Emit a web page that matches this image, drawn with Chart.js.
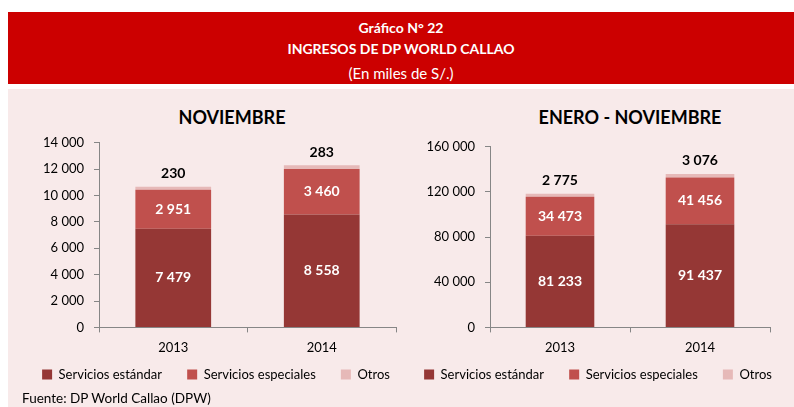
<!DOCTYPE html>
<html>
<head>
<meta charset="utf-8">
<script src="https://cdn.jsdelivr.net/npm/chart.js@4"></script>
<style>
  body { margin: 0; width: 794px; height: 407px; overflow: hidden; background: #fff; font-family: Lato, sans-serif; position: relative; }
  #band { position: absolute; left: 8px; top: 12px; width: 786px; height: 72px; background: #CC0000; color: #fff; text-align: center; }
  #band div { position: absolute; left: 0; right: 0; font-size: 14px; }
  #panel { position: absolute; left: 8px; top: 89px; width: 786px; height: 318px; background: #F8EAEA; }
  .ttl { position: absolute; font-weight: bold; font-size: 18px; color: #000; transform: translateX(-50%); white-space: nowrap; }
  .box { position: absolute; }
  #fuente { position: absolute; left: 22px; top: 390px; font-size: 13.5px; color: #000; }
</style>
</head>
<body>
<div id="band">
  <div style="top:7px;font-weight:bold">Gráfico N° 22</div>
  <div style="top:28px;font-weight:bold">INGRESOS DE DP WORLD CALLAO</div>
  <div style="top:52px;font-size:15px">(En miles de S/.)</div>
</div>
<div id="panel"></div>
<div class="ttl" style="left:232px;top:106px">NOVIEMBRE</div>
<div class="ttl" style="left:630px;top:106px">ENERO - NOVIEMBRE</div>
<div class="box" style="left:6px;top:125px;width:420px;height:275px"><canvas id="novChart"></canvas></div>
<div class="box" style="left:398px;top:129px;width:400px;height:271px"><canvas id="acumChart"></canvas></div>
<div id="fuente">Fuente: DP World Callao (DPW)</div>

<script>
const years = ['2013', '2014'];
const seriesNames = ['Servicios estándar', 'Servicios especiales', 'Otros'];
const seriesColors = ['#953735', '#C0504D', '#E6B9B8'];

const novEstandar = [7479, 8558];
const novEspeciales = [2951, 3460];
const novOtros = [230, 283];

const acumEstandar = [81233, 91437];
const acumEspeciales = [34473, 41456];
const acumOtros = [2775, 3076];

function fmt(v) {
    return String(v).replace(/\B(?=(\d{3})+(?!\d))/g, ' ');
}

const segLabels = {
    id: 'segLabels',
    afterDatasetsDraw(chart) {
        var ctx = chart.ctx;
        ctx.save();
        ctx.font = 'bold 14px Lato';
        ctx.textAlign = 'center';
        ctx.textBaseline = 'middle';
        chart.data.datasets.forEach((ds, i) => {
            chart.getDatasetMeta(i).data.forEach((bar, j) => {
                var txt = fmt(ds.data[j]);
                if (i < 2) {
                    ctx.fillStyle = '#fff';
                    ctx.fillText(txt, bar.x, (bar.y + bar.base) / 2);
                } else {
                    ctx.fillStyle = '#000';
                    ctx.fillText(txt, bar.x, bar.y - 13);
                }
            });
        });
        ctx.restore();
    }
};

// legend padding also sets the gap above the legend, so the wider
// horizontal spacing of the original comes from trailing en spaces
function legendItems(chart) {
    return Chart.defaults.plugins.legend.labels.generateLabels(chart).map((item, i) => {
        if (i < 2) item.text += '\u2002\u2002\u2002\u2009';
        return item;
    });
}

// yWidth / rightGap fix the plot area inside the canvas; the legend still uses the full width
function makeChart(id, values, max, step, barPct, yWidth, rightGap) {
    return new Chart(document.getElementById(id).getContext('2d'), {
        type: 'bar',
        data: {
            labels: years,
            datasets: values.map((v, i) => ({
                label: seriesNames[i],
                data: v,
                backgroundColor: seriesColors[i],
                borderWidth: 0,
                categoryPercentage: 1,
                barPercentage: barPct
            }))
        },
        options: {
            responsive: true,
            maintainAspectRatio: false,
            animation: false,
            layout: { padding: { top: 7, right: 0, bottom: 9, left: 0 } },
            plugins: {
                legend: {
                    position: 'bottom',
                    labels: {
                        boxWidth: 10,
                        boxHeight: 10,
                        padding: 4,
                        color: '#000',
                        font: { family: 'Lato', size: 13 },
                        generateLabels: legendItems
                    }
                },
                tooltip: { enabled: false }
            },
            scales: {
                x: {
                    stacked: true,
                    border: { color: '#868686' },
                    grid: { drawOnChartArea: false, offset: true, tickLength: 5, color: '#868686' },
                    ticks: { color: '#000', padding: 8, font: { family: 'Lato', size: 13 } }
                },
                y: {
                    stacked: true,
                    min: 0,
                    max: max,
                    afterFit: (scale) => { scale.width = yWidth; },
                    border: { color: '#868686' },
                    grid: { drawOnChartArea: false, tickLength: 5, color: '#868686' },
                    ticks: {
                        stepSize: step,
                        autoSkip: false,
                        color: '#000',
                        padding: 10,
                        font: { family: 'Lato', size: 13 },
                        callback: (v) => fmt(v)
                    }
                },
                gap: {
                    type: 'linear',
                    position: 'right',
                    afterFit: (scale) => { scale.width = rightGap; },
                    border: { display: false },
                    grid: { display: false },
                    ticks: { display: false }
                }
            }
        },
        plugins: [segLabels]
    });
}

makeChart('novChart', [novEstandar, novEspeciales, novOtros], 14000, 2000, 0.51, 93, 30);
makeChart('acumChart', [acumEstandar, acumEspeciales, acumOtros], 160000, 40000, 0.49, 92, 28);
</script>
</body>
</html>
